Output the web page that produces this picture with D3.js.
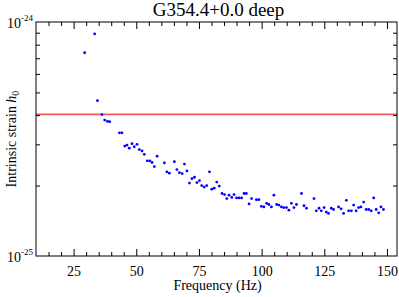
<!DOCTYPE html>
<html>
<head>
<meta charset="utf-8">
<script src="https://cdn.jsdelivr.net/npm/d3@7"></script>
<style>
  body { margin: 0; background: #fff; }
  text { font-family: "Liberation Serif", "Times New Roman", serif; }
</style>
</head>
<body>
<div id="chart"></div>
<script>
// frequencies (Hz) and upper limits on h0 (in units of 1e-25)
const freq = [29.4, 33.4, 34.5, 36.3, 37.4, 38.5, 39.4, 43.3, 44.3, 45.4,
  46.3, 47.2, 48.3, 49.2, 50.3, 51.2, 52.3, 53.2, 54.4, 55.4,
  56.3, 57.2, 58.3, 61.2, 62.2, 63.2, 65.2, 66.2, 67.2, 68.3,
  69.2, 70.2, 71.2, 72.2, 73.2, 74.2, 75.2, 76.1, 77.1, 78.1,
  79.2, 80.1, 81.1, 82.1, 83.1, 84.2, 85.2, 86.1, 87.0, 88.1,
  89.0, 90.0, 91.0, 92.0, 93.0, 93.9, 95.0, 96.0, 97.9, 98.9,
  99.9, 100.9, 102.0, 102.9, 103.9, 104.9, 106.0, 106.9, 107.9, 108.8,
  109.9, 110.9, 111.9, 112.9, 113.9, 115.9, 116.9, 117.9, 120.9, 121.8,
  122.9, 123.8, 124.9, 125.8, 126.7, 127.8, 128.7, 130.7, 131.7, 132.7,
  133.8, 134.7, 135.8, 136.7, 137.7, 138.7, 139.6, 140.7, 141.7, 142.7,
  143.7, 144.7, 145.7, 146.7, 147.6, 148.6]
const h0 = [7.39, 8.89, 4.61, 4.02, 3.81, 3.76, 3.75, 3.36, 3.36, 2.95,
  2.98, 2.89, 3.02, 2.93, 3.00, 2.85, 2.81, 2.72, 2.55, 2.55,
  2.51, 2.41, 2.67, 2.50, 2.29, 2.26, 2.53, 2.34, 2.27, 2.25,
  2.47, 2.31, 2.05, 2.14, 2.17, 2.06, 2.10, 2.00, 1.97, 2.00,
  2.29, 1.93, 1.95, 2.07, 1.99, 1.85, 1.83, 1.76, 1.82, 1.78,
  1.83, 1.77, 1.77, 1.77, 1.85, 1.85, 1.67, 1.76, 1.74, 1.74,
  1.63, 1.62, 1.68, 1.66, 1.62, 1.82, 1.66, 1.65, 1.62, 1.61,
  1.61, 1.57, 1.68, 1.61, 1.66, 1.85, 1.64, 1.60, 1.76, 1.56,
  1.60, 1.56, 1.61, 1.54, 1.52, 1.60, 1.58, 1.62, 1.59, 1.52,
  1.73, 1.56, 1.56, 1.65, 1.56, 1.61, 1.62, 1.70, 1.58, 1.58,
  1.56, 1.77, 1.58, 1.53, 1.62, 1.58]
const limit = 4.03  // horizontal line, 1e-25 units

const xMajor = [25, 50, 75, 100, 125, 150]
const xMinor = [15, 20, 30, 35, 40, 45, 55, 60, 65, 70, 80, 85, 90, 95,
  105, 110, 115, 120, 130, 135, 140, 145]
const yMinor = [2, 3, 4, 5, 6, 7, 8, 9]

const W = 399, H = 297
const m = {top: 22, right: 2, bottom: 41, left: 36},
  width = W - m.left - m.right,
  height = H - m.top - m.bottom

const x = d3.scaleLinear().domain([10, 154]).range([0, width])
const y = d3.scaleLog().domain([1, 10]).range([height, 0])

const svg = d3.select("#chart")
  .append("svg")
    .attr("width", W)
    .attr("height", H)
  .append("g")
    .attr("transform", "translate(" + m.left + "," + m.top + ")")

// title
svg.append("text")
  .attr("x", width / 2 + 2)
  .attr("y", -6)
  .attr("text-anchor", "middle")
  .style("font-size", "19px")
  .text("G354.4+0.0 deep")

// threshold line
svg.append("line")
  .attr("x1", 0).attr("x2", width)
  .attr("y1", y(limit)).attr("y2", y(limit))
  .attr("stroke", "#f25a5a")
  .attr("stroke-width", 1.6)

// points
svg.selectAll("circle")
  .data(freq.map((f, i) => [f, h0[i]]))
  .enter()
  .append("circle")
    .attr("cx", d => x(d[0]))
    .attr("cy", d => y(d[1]))
    .attr("r", 1.4)
    .style("fill", "#0000ff")

// axes, ticks pointing inward
function ticks(g) {
  g.select(".domain").remove()
  g.selectAll("line").attr("stroke", "#000")
}
svg.append("g")
  .attr("transform", "translate(0," + height + ")")
  .call(d3.axisBottom(x).tickValues(xMajor).tickSize(-7).tickPadding(10).tickFormat(d3.format("d")))
  .call(ticks)
  .selectAll("text").style("font-size", "14px").style("font-family", "Liberation Serif, serif").attr("fill", "#000")
svg.append("g")
  .attr("transform", "translate(0," + height + ")")
  .call(d3.axisBottom(x).tickValues(xMinor).tickSize(-4).tickFormat(""))
  .call(ticks)
svg.append("g")
  .call(d3.axisTop(x).tickValues(xMajor).tickSize(-7).tickFormat(""))
  .call(ticks)
svg.append("g")
  .call(d3.axisTop(x).tickValues(xMinor).tickSize(-4).tickFormat(""))
  .call(ticks)
svg.append("g")
  .call(d3.axisLeft(y).tickValues(yMinor).tickSize(-4).tickFormat(""))
  .call(ticks)
svg.append("g")
  .attr("transform", "translate(" + width + ",0)")
  .call(d3.axisRight(y).tickValues(yMinor).tickSize(-4).tickFormat(""))
  .call(ticks)

// frame
svg.append("rect")
  .attr("width", width)
  .attr("height", height)
  .attr("fill", "none")
  .attr("stroke", "#000")
  .attr("stroke-width", 1)

// decade labels
const decades = [[1, "-25"], [10, "-24"]]
decades.forEach(function(d) {
  const t = svg.append("text")
    .attr("x", -3)
    .attr("y", y(d[0]) + 6)
    .attr("text-anchor", "end")
    .style("font-size", "14px")
  t.append("tspan").text("10")
  t.append("tspan").attr("dy", -7).style("font-size", "9px").text(d[1])
})

// axis titles
svg.append("text")
  .attr("x", width / 2 + 1)
  .attr("y", height + 34)
  .attr("text-anchor", "middle")
  .style("font-size", "14px")
  .text("Frequency (Hz)")

const yl = svg.append("text")
  .attr("transform", "translate(" + (-20) + "," + (height / 2) + ") rotate(-90)")
  .attr("text-anchor", "middle")
  .style("font-size", "14px")
yl.append("tspan").text("Intrinsic strain ")
yl.append("tspan").style("font-style", "italic").text("h")
yl.append("tspan").attr("dy", 3).style("font-size", "10px").text("0")
</script>
</body>
</html>
